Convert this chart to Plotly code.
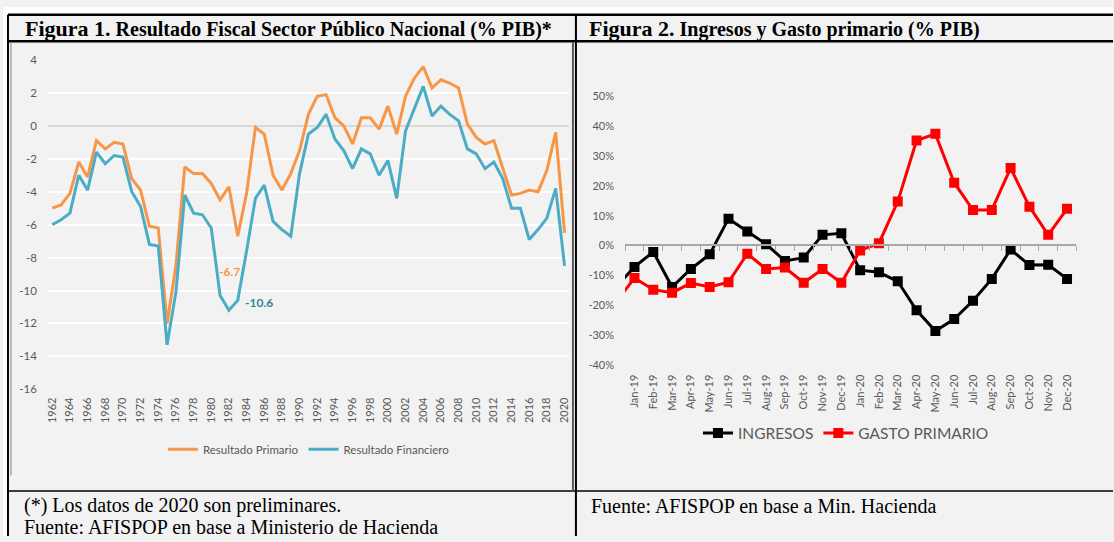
import plotly.graph_objects as go

W, H = 1114, 542

# ---------------- Data: Figure 1 ----------------
years = list(range(1962, 2021))
resultado_primario = [
    -5.0, -4.8, -4.1, -2.2, -3.1, -0.9, -1.4, -1.0, -1.1, -3.2,
    -3.9, -6.1, -6.2, -12.0, -8.5, -2.5, -2.9, -2.9, -3.5, -4.5,
    -3.7, -6.7, -4.1, -0.1, -0.5, -3.0, -3.9, -2.9, -1.5, 0.7,
    1.8, 1.9, 0.5, 0.0, -1.1, 0.5, 0.5, -0.2, 1.2, -0.5,
    1.8, 2.9, 3.6, 2.3, 2.8, 2.6, 2.3, 0.1, -0.7, -1.1,
    -0.9, -2.5, -4.2, -4.1, -3.9, -4.0, -2.7, -0.4, -6.5,
]
resultado_financiero = [
    -6.0, -5.7, -5.3, -3.0, -3.9, -1.6, -2.3, -1.8, -1.9, -4.0,
    -4.9, -7.2, -7.3, -13.3, -10.1, -4.2, -5.3, -5.4, -6.2, -10.3,
    -11.2, -10.6, -7.6, -4.4, -3.6, -5.8, -6.3, -6.7, -2.9, -0.5,
    -0.1, 0.7, -0.8, -1.5, -2.6, -1.4, -1.7, -3.0, -2.1, -4.4,
    -0.3, 1.1, 2.4, 0.6, 1.2, 0.7, 0.3, -1.4, -1.7, -2.6,
    -2.2, -3.2, -5.0, -5.0, -6.9, -6.3, -5.6, -3.8, -8.5,
]
fig1_year_ticks = list(range(1962, 2021, 2))
fig1_y_ticks = [4, 2, 0, -2, -4, -6, -8, -10, -12, -14, -16]

# ---------------- Data: Figure 2 ----------------
months = ["Dec-18",
          "Jan-19", "Feb-19", "Mar-19", "Apr-19", "May-19", "Jun-19",
          "Jul-19", "Aug-19", "Sep-19", "Oct-19", "Nov-19", "Dec-19",
          "Jan-20", "Feb-20", "Mar-20", "Apr-20", "May-20", "Jun-20",
          "Jul-20", "Aug-20", "Sep-20", "Oct-20", "Nov-20", "Dec-20"]
ingresos = [-0.14,
            -0.071, -0.021, -0.138, -0.078, -0.029, 0.090,
            0.047, 0.005, -0.051, -0.040, 0.036, 0.041,
            -0.082, -0.089, -0.119, -0.216, -0.285, -0.245,
            -0.184, -0.111, -0.013, -0.065, -0.064, -0.111]
gasto_primario = [-0.19,
                  -0.108, -0.147, -0.157, -0.125, -0.138, -0.122,
                  -0.027, -0.078, -0.073, -0.124, -0.078, -0.124,
                  -0.016, 0.008, 0.147, 0.351, 0.373, 0.210,
                  0.119, 0.119, 0.259, 0.130, 0.036, 0.123]
fig2_y_ticks = [0.5, 0.4, 0.3, 0.2, 0.1, 0.0, -0.1, -0.2, -0.3, -0.4]


def px(x):
    return x / W


def py(y):
    return 1 - y / H


def lbl(v):
    return str(v).replace("\u2212", "-")


ORANGE = "#F79646"
BLUE = "#4BACC6"
GRAY_TXT = "#595959"
BG = "#F2F2F2"
FONT = "Lato"
SERIF = "Liberation Serif"

fig = go.Figure()

fig.add_trace(go.Scatter(x=years, y=resultado_primario, mode="lines",
                         name="Resultado Primario",
                         line=dict(color=ORANGE, width=3),
                         xaxis="x", yaxis="y", legend="legend"))
fig.add_trace(go.Scatter(x=years, y=resultado_financiero, mode="lines",
                         name="Resultado Financiero",
                         line=dict(color=BLUE, width=3),
                         xaxis="x", yaxis="y", legend="legend"))

# dummy trace to carry the 0%-line category axis
fig.add_trace(go.Scatter(x=months, y=[None] * len(months), mode="lines",
                         showlegend=False, hoverinfo="skip",
                         xaxis="x3", yaxis="y2"))
fig.add_trace(go.Scatter(x=months, y=ingresos, mode="lines+markers",
                         name="INGRESOS",
                         line=dict(color="#000000", width=3),
                         marker=dict(symbol="square", size=10, color="#000000"),
                         xaxis="x2", yaxis="y2", legend="legend2",
                         cliponaxis=True))
fig.add_trace(go.Scatter(x=months, y=gasto_primario, mode="lines+markers",
                         name="GASTO PRIMARIO",
                         line=dict(color="#FF0000", width=3),
                         marker=dict(symbol="square", size=10, color="#FF0000"),
                         xaxis="x2", yaxis="y2", legend="legend2",
                         cliponaxis=True))

shapes = []
# white strips around the table
shapes.append(dict(type="rect", xref="paper", yref="paper", x0=0, x1=1,
                   y0=py(8), y1=1, fillcolor="white", line_width=0, layer="below"))
shapes.append(dict(type="rect", xref="paper", yref="paper", x0=0, x1=px(5),
                   y0=0, y1=1, fillcolor="white", line_width=0, layer="below"))
# table borders
for (x0, y0, x1, y1, w, c) in [
    (5, 8, W, 8, 2.5, "#000000"),
    (5, 35, W, 35, 2.5, "#000000"),
    (5, 496, W, 496, 1.5, "#000000"),
    (5, 8, 5, H, 2, "#000000"),
    (575, 8, 575, H, 2, "#000000"),
    (8, 36, 8, 480, 1, "#808080"),
    (572, 36, 572, 495, 2, "#595959"),
]:
    shapes.append(dict(type="line", xref="paper", yref="paper",
                       x0=px(x0), x1=px(x1), y0=py(y0), y1=py(y1),
                       line=dict(color=c, width=w)))

annotations = [
    dict(xref="paper", yref="paper", x=px(20), y=py(22), xanchor="left", yanchor="middle",
         showarrow=False,
         text="<b><span style='font-size:22px'>Figura 1.</span> Resultado Fiscal Sector Público Nacional (% PIB)*</b>",
         font=dict(family=SERIF, size=20, color="#000000")),
    dict(xref="paper", yref="paper", x=px(586), y=py(22), xanchor="left", yanchor="middle",
         showarrow=False,
         text="<b><span style='font-size:22px'>Figura 2.</span> Ingresos y Gasto primario (% PIB)</b>",
         font=dict(family=SERIF, size=20, color="#000000")),
    dict(xref="paper", yref="paper", x=px(19), y=py(511), xanchor="left", yanchor="middle",
         showarrow=False, text="(*) Los datos de 2020 son preliminares.",
         font=dict(family=SERIF, size=20, color="#000000")),
    dict(xref="paper", yref="paper", x=px(19), y=py(533), xanchor="left", yanchor="middle",
         showarrow=False, text="Fuente: AFISPOP en base a Ministerio de Hacienda",
         font=dict(family=SERIF, size=20, color="#000000")),
    dict(xref="paper", yref="paper", x=px(588), y=py(511), xanchor="left", yanchor="middle",
         showarrow=False, text="Fuente: AFISPOP en base a Min. Hacienda",
         font=dict(family=SERIF, size=20, color="#000000")),
    # data labels
    dict(xref="x", yref="y", x=1983, y=resultado_primario[1983 - 1962],
         xanchor="center", yanchor="middle", xshift=-8, yshift=-35, showarrow=False,
         text="<b>-6.7</b>", font=dict(family=FONT, size=12, color=ORANGE)),
    dict(xref="x", yref="y", x=1983, y=resultado_financiero[1983 - 1962],
         xanchor="left", yanchor="middle", xshift=5, yshift=-2, showarrow=False,
         text="<b>-10.6</b>", font=dict(family=FONT, size=12, color="#31849B")),
]

fig.update_layout(
    width=W, height=H,
    margin=dict(l=0, r=0, t=0, b=0),
    paper_bgcolor=BG, plot_bgcolor=BG,
    font=dict(family=FONT, color=GRAY_TXT),
    shapes=shapes, annotations=annotations,
    xaxis=dict(domain=[px(45), px(568)], anchor="y", range=[1961.5, 2020.5],
               tickmode="array", tickvals=fig1_year_ticks,
               ticktext=[str(v) for v in fig1_year_ticks],
               tickangle=-90, tickfont=dict(size=11, color=GRAY_TXT),
               showgrid=False, zeroline=False, showline=False, ticks="",
               ticklabelstandoff=5),
    yaxis=dict(domain=[py(391.7), py(54.3)], anchor="x", range=[-16, 4],
               tickmode="array", tickvals=fig1_y_ticks,
               ticktext=[lbl(v) for v in fig1_y_ticks],
               tickfont=dict(size=11.5, color=GRAY_TXT),
               showgrid=True, gridcolor="#FFFFFF", gridwidth=1.5,
               zeroline=True, zerolinecolor="#D9D9D9", zerolinewidth=1.5,
               showline=False, ticks="", ticklabelstandoff=10),
    xaxis2=dict(domain=[px(624.3), px(1077.3)], anchor="y2", type="category",
                categoryorder="array", categoryarray=months,
                range=[0.5, len(months) - 0.5],
                tickangle=-90, tickfont=dict(size=11, color=GRAY_TXT),
                showgrid=False, zeroline=False, showline=False, ticks="",
                ticklabelstandoff=6),
    xaxis3=dict(matches="x2", overlaying="x2", anchor="free", position=py(244.3),
                type="category", categoryorder="array", categoryarray=months,
                showticklabels=False, showgrid=False, zeroline=False,
                showline=True, linecolor="#A6A6A6", linewidth=1.5,
                ticks="outside", tickson="boundaries", ticklen=5,
                tickcolor="#A6A6A6", tickwidth=1),
    yaxis2=dict(domain=[py(367.3), py(91)], anchor="x2", range=[-0.4, 0.5],
                tickmode="array", tickvals=fig2_y_ticks,
                ticktext=[f"{round(v * 100)}%" for v in fig2_y_ticks],
                tickfont=dict(size=11, color=GRAY_TXT),
                showgrid=False, zeroline=False, showline=False, ticks="",
                ticklabelstandoff=10),
    legend=dict(orientation="h", x=px(307), y=py(453), xanchor="center", yanchor="middle",
                bgcolor="rgba(0,0,0,0)", font=dict(size=11.5, color=GRAY_TXT),
                itemwidth=30, tracegroupgap=0),
    legend2=dict(orientation="h", x=px(846), y=py(437), xanchor="center", yanchor="middle",
                 bgcolor="rgba(0,0,0,0)", font=dict(size=15.5, color=GRAY_TXT),
                 itemwidth=30),
)

fig.write_html("out.html", config={"displayModeBar": False},
               post_script="document.body.style.margin='0';"
                           "document.body.style.overflow='hidden';")
